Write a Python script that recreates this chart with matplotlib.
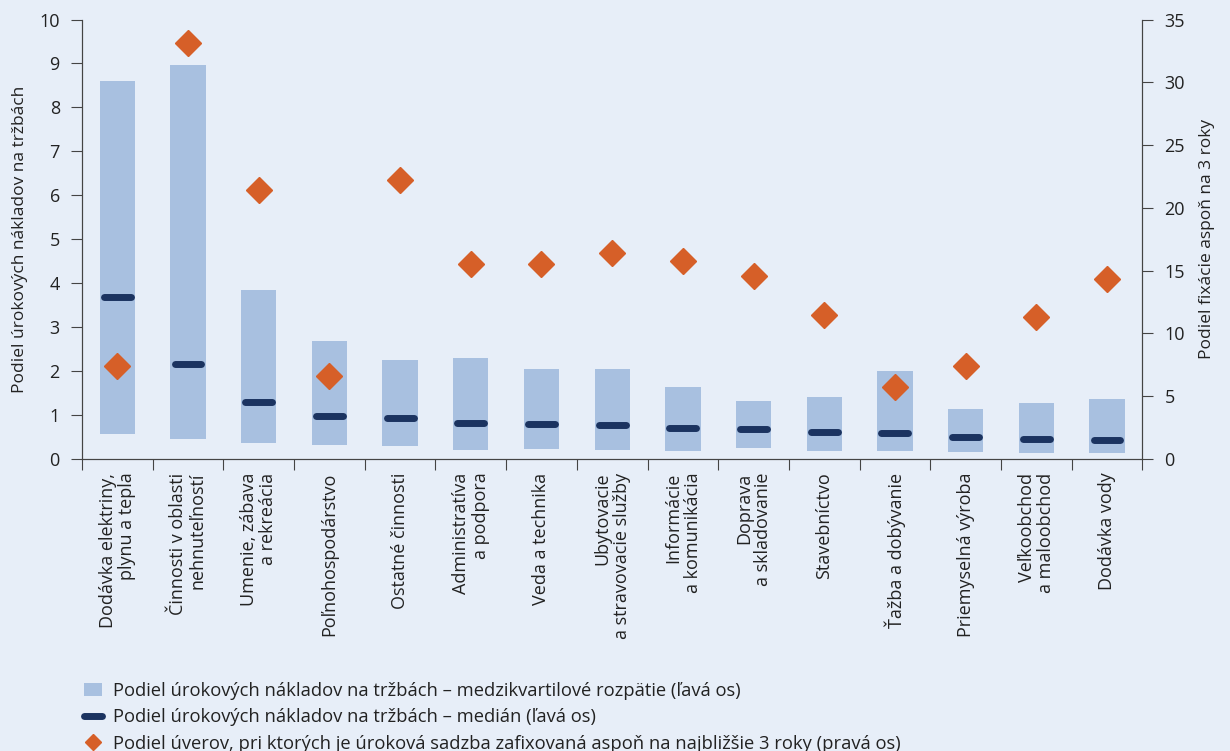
import numpy as np
import matplotlib.pyplot as plt
from matplotlib.lines import Line2D
from matplotlib.patches import Patch

plt.rcParams['font.family'] = ['Open Sans', 'DejaVu Sans']

# sektory
kategorie = [
    "Dodávka elektriny,\nplynu a tepla",
    "Činnosti v oblasti\nnehnuteľností",
    "Umenie, zábava\na rekreácia",
    "Poľnohospodárstvo",
    "Ostatné činnosti",
    "Administratíva\na podpora",
    "Veda a technika",
    "Ubytovacie\na stravovacie služby",
    "Informácie\na komunikácia",
    "Doprava\na skladovanie",
    "Stavebníctvo",
    "Ťažba a dobývanie",
    "Priemyselná výroba",
    "Veľkoobchod\na maloobchod",
    "Dodávka vody",
]
# medzikvartilove rozpatie (lava os)
q1 = [0.57, 0.46, 0.36, 0.32, 0.30, 0.20, 0.23, 0.21, 0.18, 0.25, 0.19, 0.17, 0.15, 0.14, 0.14]
q3 = [8.61, 8.97, 3.85, 2.69, 2.25, 2.30, 2.05, 2.05, 1.64, 1.32, 1.41, 2.00, 1.13, 1.27, 1.36]
median = [3.69, 2.16, 1.30, 0.98, 0.93, 0.82, 0.80, 0.76, 0.70, 0.68, 0.61, 0.59, 0.50, 0.46, 0.43]
# podiel fixacie aspon na 3 roky (prava os)
fixacia = [7.4, 33.1, 21.4, 6.6, 22.2, 15.5, 15.5, 16.4, 15.8, 14.6, 11.5, 5.7, 7.4, 11.3, 14.3]

bg = '#e7eef8'
c_bar = '#a8c0e0'
c_med = '#1b3360'
c_dia = '#d65f28'
c_axis = '#444444'
c_txt = '#222222'

fig = plt.figure(figsize=(12.3, 7.51), dpi=100, facecolor=bg)
ax = fig.add_axes([0.0667, 0.389, 0.862, 0.585])
ax.set_facecolor(bg)
ax2 = ax.twinx()

x = np.arange(len(kategorie))
q1 = np.array(q1)
q3 = np.array(q3)
ax.bar(x, q3 - q1, bottom=q1, width=0.5, color=c_bar, zorder=1)
med = ax.hlines(median, x - 0.19, x + 0.19, color=c_med, lw=5, zorder=3)
med.set_capstyle('round')
ax2.plot(x, fixacia, 'D', color=c_dia, markersize=13, zorder=4)

ax.set_xlim(-0.5, len(kategorie) - 0.5)
ax.set_ylim(0, 10)
ax2.set_ylim(0, 35)
ax.set_yticks(range(0, 11))
ax2.set_yticks(range(0, 36, 5))
ax.set_xticks(np.arange(-0.5, len(kategorie)))
ax.set_xticklabels([])
ax.set_xticks(x, minor=True)
ax.set_xticklabels(kategorie, minor=True, rotation=90, multialignment='right',
                   fontsize=13, color=c_txt, linespacing=1.1)
ax.tick_params(axis='x', which='minor', length=0, pad=10)
ax.tick_params(axis='x', which='major', length=8, color=c_axis)

for a in (ax, ax2):
    a.spines['top'].set_visible(False)
    for s in ('left', 'right', 'bottom'):
        a.spines[s].set_color(c_axis)
    a.tick_params(axis='y', length=8, color=c_axis, labelsize=13, labelcolor=c_txt, pad=8)
ax2.set_zorder(ax.get_zorder() + 1)
ax2.patch.set_visible(False)

ax.set_ylabel("Podiel úrokových nákladov na tržbách", fontsize=12.5, color=c_txt, labelpad=8)
ax2.set_ylabel("Podiel fixácie aspoň na 3 roky", fontsize=12.5, color=c_txt, labelpad=10)

handles = [
    Patch(facecolor=c_bar, edgecolor='none'),
    Line2D([0], [0], color=c_med, lw=5, solid_capstyle='round'),
    Line2D([0], [0], marker='D', color=c_dia, lw=0, markersize=8),
]
labels = [
    "Podiel úrokových nákladov na tržbách – medzikvartilové rozpätie (ľavá os)",
    "Podiel úrokových nákladov na tržbách – medián (ľavá os)",
    "Podiel úverov, pri ktorých je úroková sadzba zafixovaná aspoň na najbližšie 3 roky (pravá os)",
]
fig.legend(handles, labels, loc='lower left', bbox_to_anchor=(0.055, -0.024),
           frameon=False, fontsize=13.2, handlelength=1.0, handletextpad=0.55,
           labelspacing=0.45, labelcolor=c_txt)

fig.savefig('out.png', dpi=100, facecolor=bg)
